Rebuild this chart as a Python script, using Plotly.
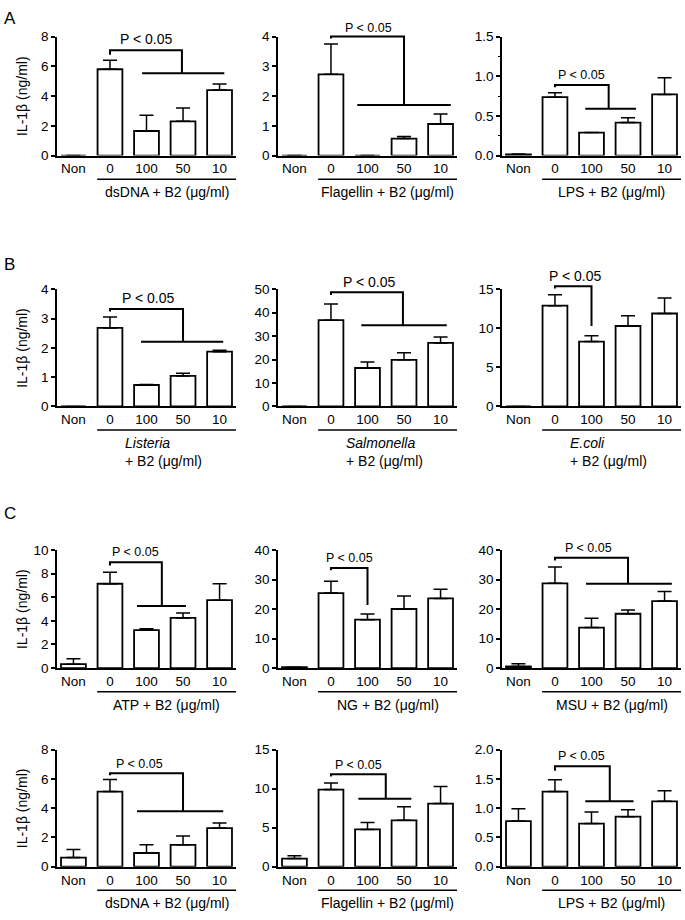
import plotly.graph_objects as go

CATEGORIES = ["Non", "0", "100", "50", "10"]
X = [0, 1, 2, 3, 4]

# IL-1b means and upper error bars (ng/ml) per panel
dsdna_a = [0, 5.8, 1.65, 2.3, 4.4]
dsdna_a_err = [0, 0.6, 1.05, 0.9, 0.4]
flag_a = [0, 2.73, 0, 0.57, 1.06]
flag_a_err = [0, 1.02, 0, 0.07, 0.34]
lps_a = [0.015, 0.735, 0.29, 0.415, 0.77]
lps_a_err = [0.005, 0.055, 0, 0.06, 0.21]

listeria = [0, 2.68, 0.73, 1.04, 1.87]
listeria_err = [0, 0.37, 0.02, 0.09, 0.05]
salmonella = [0, 36.8, 16.4, 19.9, 27.1]
salmonella_err = [0, 6.9, 2.6, 3.0, 2.5]
ecoli = [0, 12.9, 8.3, 10.3, 11.9]
ecoli_err = [0, 1.4, 0.75, 1.3, 2.0]

atp = [0.33, 7.14, 3.22, 4.25, 5.75]
atp_err = [0.45, 0.97, 0.11, 0.42, 1.39]
ng = [0.3, 25.4, 16.4, 20.0, 23.6]
ng_err = [0, 4.0, 1.9, 4.4, 3.1]
msu = [0.55, 28.7, 13.7, 18.4, 22.7]
msu_err = [0.9, 5.5, 3.2, 1.3, 3.2]

dsdna_c = [0.63, 5.14, 0.94, 1.5, 2.64]
dsdna_c_err = [0.55, 0.83, 0.56, 0.6, 0.35]
flag_c = [1.05, 9.89, 4.78, 5.95, 8.09]
flag_c_err = [0.37, 0.83, 0.88, 1.75, 2.2]
lps_c = [0.78, 1.285, 0.737, 0.855, 1.117]
lps_c_err = [0.21, 0.2, 0.2, 0.12, 0.18]

# significance brackets: top, left tick end, drop x, drop end, lower line x0, x1 (None = no line)
# plus "P < 0.05" label position (x, y) and its font size
BRACKETS = [
    ([7.07, 6.78, 2.97, 5.53, 1.88, 4.13], (2.0, 7.8), 14),
    ([4.0, 3.93, 3.0, 1.70, 1.72, 4.28], (2.03, 4.3), 12.5),
    ([0.89, 0.86, 2.47, 0.59, 1.83, 3.22], (1.72, 1.02), 12.5),
    ([3.33, 3.24, 3.0, 2.21, 1.85, 4.1], (2.05, 3.69), 14),
    ([48.75, 47.6, 2.97, 34.7, 1.83, 4.17], (2.06, 53.2), 14),
    ([15.4, 15.1, 2.0, 10.3, None, None], (1.55, 16.7), 14),
    ([8.97, 8.69, 2.42, 5.25, 1.74, 3.08], (1.69, 9.86), 12.5),
    ([33.9, 33.1, 2.0, 21.4, None, None], (1.5, 37.4), 12.5),
    ([37.4, 36.4, 3.0, 28.6, 1.85, 4.2], (1.92, 40.8), 12.5),
    ([6.39, 6.26, 3.0, 3.8, 1.74, 4.1], (1.8, 7.04), 12.5),
    ([11.86, 11.56, 2.5, 8.71, 1.75, 3.2], (1.75, 13.1), 12.5),
    ([1.715, 1.64, 2.5, 1.117, 1.83, 3.15], (1.72, 1.89), 12.5),
]

PANELS = [
    (dsdna_a, dsdna_a_err, 8, 2, "d", "dsDNA + B2 (μg/ml)"),
    (flag_a, flag_a_err, 4, 1, "d", "Flagellin + B2 (μg/ml)"),
    (lps_a, lps_a_err, 1.5, 0.5, ".1f", "LPS + B2 (μg/ml)"),
    (listeria, listeria_err, 4, 1, "d", "<i>Listeria</i><br>+ B2 (μg/ml)"),
    (salmonella, salmonella_err, 50, 10, "d", "<i>Salmonella</i><br>+ B2 (μg/ml)"),
    (ecoli, ecoli_err, 15, 5, "d", "<i>E.coli</i><br>+ B2 (μg/ml)"),
    (atp, atp_err, 10, 2, "d", "ATP + B2 (μg/ml)"),
    (ng, ng_err, 40, 10, "d", "NG + B2 (μg/ml)"),
    (msu, msu_err, 40, 10, "d", "MSU + B2 (μg/ml)"),
    (dsdna_c, dsdna_c_err, 8, 2, "d", "dsDNA + B2 (μg/ml)"),
    (flag_c, flag_c_err, 15, 5, "d", "Flagellin + B2 (μg/ml)"),
    (lps_c, lps_c_err, 2.0, 0.5, ".1f", "LPS + B2 (μg/ml)"),
]

W, H = 685, 920
COL_X = [(57, 236), (278, 457), (502, 681)]
ROW_Y = [(30, 151), (287, 406), (552, 672), (755, 874)]
FONT = "Arial, Liberation Sans, sans-serif"


def px_x(v):
    return v / W


def px_y(v):
    return 1 - v / H


fig = go.Figure()
shapes, annotations = [], []
layout = {}

for i, (vals, err, ymax, dtick, fmt, label) in enumerate(PANELS):
    r, c = divmod(i, 3)
    n = "" if i == 0 else str(i + 1)
    xa, ya = "x" + n, "y" + n
    yd = ya + " domain"
    x0, x1 = COL_X[c]
    y0, y1 = ROW_Y[r]

    fig.add_trace(go.Bar(
        x=X, y=vals, width=0.68,
        marker=dict(color="white", line=dict(color="black", width=1.8)),
        error_y=dict(type="data", symmetric=False, array=err, arrayminus=[0] * 5,
                     color="black", thickness=1.5, width=7),
        xaxis=xa, yaxis=ya, showlegend=False, hoverinfo="skip",
    ))

    layout["xaxis" + n] = dict(
        domain=[px_x(x0), px_x(x1)], anchor=ya, range=[-0.45, 4.45],
        tickvals=X, ticktext=CATEGORIES, ticks="", showline=True,
        linecolor="black", linewidth=1.5, showgrid=False, zeroline=False,
        tickfont=dict(size=13.5, color="black"),
    )
    layout["yaxis" + n] = dict(
        domain=[px_y(y1), px_y(y0)], anchor=xa, range=[0, ymax], dtick=dtick,
        tickformat=fmt, ticks="outside", ticklen=4, tickwidth=1.5,
        tickcolor="black", showline=True, linecolor="black", linewidth=1.5,
        showgrid=False, zeroline=False, tickfont=dict(size=13.5, color="black"),
    )
    if i == 2:
        layout["yaxis" + n]["minor"] = dict(dtick=0.25, ticks="outside", ticklen=2,
                                            tickwidth=1, tickcolor="black", showgrid=False)

    # group underline and label
    uy = y1 + 24
    shapes.append(dict(type="line", xref=xa, yref="paper", x0=0.65, x1=4.45,
                       y0=px_y(uy), y1=px_y(uy), line=dict(color="black", width=1.5)))
    if r == 1:
        annotations.append(dict(xref=xa, yref="paper", x=1.36, y=px_y(uy + 3),
                                text=label, showarrow=False, xanchor="left",
                                yanchor="top", align="left",
                                font=dict(size=14, color="black")))
    else:
        annotations.append(dict(xref=xa, yref="paper", x=2.55, y=px_y(uy + 3),
                                text=label, showarrow=False, xanchor="center",
                                yanchor="top", font=dict(size=14, color="black")))

    # significance bracket, placed on the axis domain so it is not clipped
    (top, tick, dx, low, lx0, lx1), (tx, ty), fs = BRACKETS[i]
    ft, fk, fl = top / ymax, tick / ymax, low / ymax
    shapes.append(dict(type="path", xref=xa, yref=yd,
                       path=f"M 1,{fk} L 1,{ft} L {dx},{ft} L {dx},{fl}",
                       line=dict(color="black", width=2)))
    if lx0 is not None:
        shapes.append(dict(type="line", xref=xa, yref=yd, x0=lx0, x1=lx1,
                           y0=fl, y1=fl, line=dict(color="black", width=2)))
    annotations.append(dict(xref=xa, yref=yd, x=tx, y=ty / ymax, text="P < 0.05",
                            showarrow=False, xanchor="center", yanchor="middle",
                            font=dict(size=fs, color="black")))

    if c == 0:
        annotations.append(dict(xref="paper", yref="paper", x=px_x(22),
                                y=px_y((y0 + y1) / 2), text="IL-1β (ng/ml)",
                                textangle=-90, showarrow=False,
                                xanchor="center", yanchor="middle",
                                font=dict(size=14, color="black")))

for letter, ypx in [("A", 12), ("B", 262), ("C", 515)]:
    annotations.append(dict(xref="paper", yref="paper", x=px_x(2), y=px_y(ypx),
                            text=letter, showarrow=False, xanchor="left",
                            yanchor="middle", font=dict(size=17, color="black")))

fig.update_layout(
    width=W, height=H, margin=dict(l=0, r=0, t=0, b=0),
    paper_bgcolor="white", plot_bgcolor="white",
    font=dict(family=FONT, color="black"),
    shapes=shapes, annotations=annotations, **layout,
)

fig.write_html("out.html", config={"displayModeBar": False},
               post_script="document.body.style.margin='0';")
